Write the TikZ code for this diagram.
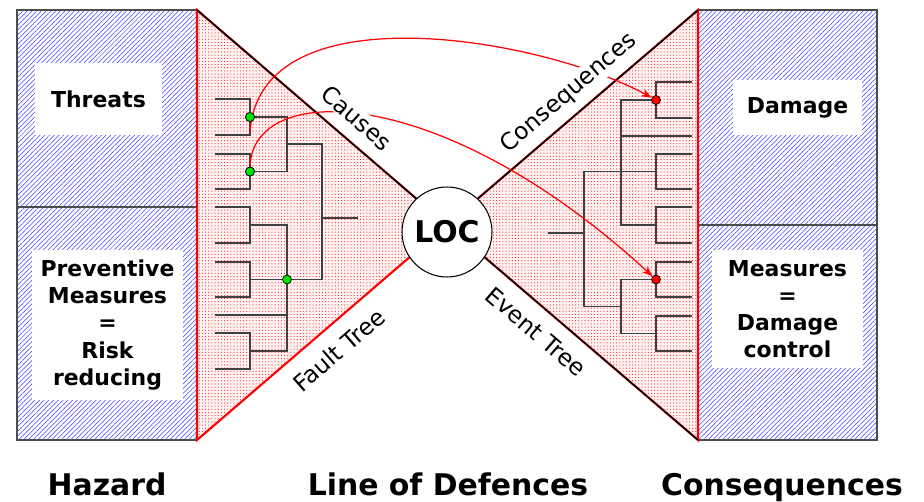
\documentclass[tikz,border=0pt]{standalone}
\usepackage{fontspec}
\setmainfont{DejaVu Sans}
\usetikzlibrary{patterns.meta,arrows.meta}

\tikzset{
  hatchbox/.style={draw=black!70, line width=0.6pt, preaction={fill=white},
    pattern={Lines[angle=45,distance=1.9pt,line width=0.3pt]}, pattern color=blue!75},
  wedge/.style={draw=red, line width=1.2pt, preaction={fill=red!5},
    pattern={Dots[radius=0.33pt,distance=1.8pt]}, pattern color=red!85},
  boxtext/.style={fill=white, align=center, inner sep=0pt,
    font=\bfseries\fontsize{12.5}{15.4}\selectfont},
  tree/.style={black!75, line width=0.6pt},
  edgetext/.style={font=\fontsize{13.3}{15}\selectfont, inner sep=1pt},
  bottomtext/.style={anchor=base, font=\bfseries\fontsize{17}{20}\selectfont},
  cause/.style={circle, draw=black, line width=0.4pt, fill=green!90!black,
    minimum size=0.18cm, inner sep=0pt},
  effect/.style={circle, draw=black, line width=0.4pt, fill=red,
    minimum size=0.18cm, inner sep=0pt},
  flow/.style={red, line width=0.7pt, -{Stealth[length=6pt,width=4.5pt]}}
}

\begin{document}
\begin{tikzpicture}[x=0.02cm, y=0.02cm]
  \useasboundingbox (0,0) rectangle (924,501);

  % hazard side
  \draw [hatchbox] (17,61) rectangle (197,491);
  \draw [black!70, line width=0.6pt] (17,294) -- (197,294);
  \node [boxtext, minimum width=2.54cm, minimum height=1.44cm] (threats)
        at (98.5,402) {Threats};
  \node [boxtext, minimum width=3.02cm, minimum height=3cm] (prevent)
        at (107.5,176) {Preventive\\Measures\\=\\Risk\\reducing};

  % consequence side
  \draw [hatchbox] (698,61) rectangle (877,491);
  \draw [black!70, line width=0.6pt] (698,276) -- (877,276);
  \node [boxtext, minimum width=2.58cm, minimum height=1.1cm] (damage)
        at (797.5,393.5) {Damage};
  \node [boxtext, minimum width=3.02cm, minimum height=2.36cm] (control)
        at (787.5,192) {Measures\\=\\Damage\\control};

  % the two wedges
  \draw [wedge] (197,491) -- (447,276) -- (197,61) -- cycle;
  \draw [wedge] (698,491) -- (447,276) -- (698,61) -- cycle;
  \draw [black, line width=0.9pt] (197,491) -- (447,276);
  \draw [black, line width=0.9pt] (698,491) -- (447,276) -- (698,61);

  % fault tree
  \foreach \a/\b in {402/366, 347/312, 294/258, 239/204, 168/132}
    \draw [tree] (215,\a) -| (250,\b) -- (215,\b);
  \draw [tree] (215,186) -- (287,186);
  \draw [tree] (250,384) -| (287,329.5) -- (250,329.5);
  \draw [tree] (250,276) -| (287,150) -- (250,150);
  \draw [tree] (287,357) -| (322,221.5) -- (250,221.5);
  \draw [tree] (322,283) -- (358,283);

  % event tree
  \foreach \a/\b in {419/383, 347/312, 294/258, 239/204, 185/150}
    \draw [tree] (692,\a) -| (656,\b) -- (692,\b);
  \draw [tree] (656,401) -| (621,276) -- (656,276);
  \draw [tree] (621,365) -- (692,365);
  \draw [tree] (656,329.5) -| (584,194.5) -| (621,221.5) -- (656,221.5);
  \draw [tree] (621,194.5) |- (656,167.5);
  \draw [tree] (548,268) -- (584,268);

  \node [circle, draw=black, line width=0.6pt, fill=white, minimum size=1.8cm,
         font=\bfseries\fontsize{17}{20}\selectfont] (loc) at (447,269) {LOC};

  % events on the trees
  \node [cause] (top1) at (250,384) {};
  \node [cause] (top2) at (250,329.5) {};
  \node [cause] (mid) at (287,221.5) {};
  \node [effect] (hit1) at (656,401) {};
  \node [effect] (hit2) at (656,221.5) {};
  \coordinate (tail1) at (250,368);

  \draw [flow] (tail1) .. controls (258,512) and (540,464) .. (hit1);
  \draw [flow] (top2) .. controls (252,420) and (440,420) .. (hit2);
  \node [cause] at (top1) {};
  \node [cause] at (top2) {};

  \node [edgetext, fill=white, rotate=-41] (causes) at (357,383) {Causes};
  \node [edgetext, fill=white, rotate=40.5] (conseq) at (569,408) {Consequences};
  \node [edgetext, rotate=41] (fault) at (339,151) {Fault Tree};
  \node [edgetext, rotate=-40.5] (event) at (536,169) {Event Tree};

  \node [bottomtext] (hazard) at (107,6) {Hazard};
  \node [bottomtext] (defence) at (448,6) {Line of Defences};
  \node [bottomtext] (outcome) at (782,6) {Consequences};
\end{tikzpicture}
\end{document}
